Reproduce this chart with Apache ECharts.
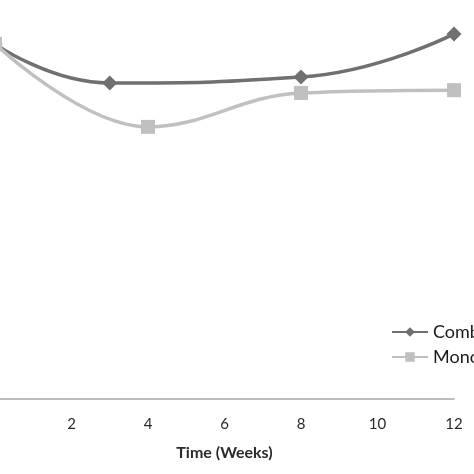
<!DOCTYPE html>
<html><head><meta charset="utf-8">
<script src="https://cdn.jsdelivr.net/npm/echarts@6/dist/echarts.min.js"></script>
<style>html,body{margin:0;padding:0;background:#fff}#c{width:474px;height:474px}</style>
</head><body><div id="c"></div>
<script>
const weeksCombination = [0, 3, 8, 12];
const valuesCombination = [89, 79.2, 80.7, 91.5];
const weeksMonotherapy = [0, 4, 8, 12];
const valuesMonotherapy = [89, 68.2, 76.7, 77.4];
const seriesNames = ['Combination therapy', 'Monotherapy'];
const xTicks = [0, 2, 4, 6, 8, 10, 12];

const chart = echarts.init(document.getElementById('c'));
chart.setOption({
  animation: false,
  backgroundColor: '#fff',
  grid: {left: -5, right: 20, top: 0, bottom: 75, containLabel: false, outerBoundsMode: 'none'},
  xAxis: {
    type: 'value', min: xTicks[0], max: xTicks[xTicks.length-1], interval: 2,
    showMinLabel: false,
    axisLine: {lineStyle: {color: '#a8a8a8', width: 1.5}},
    axisTick: {show: false},
    splitLine: {show: false},
    axisLabel: {color: '#2a2a2a', fontSize: 15, fontFamily: 'Lato', margin: 18},
    name: 'Time (Weeks)', nameLocation: 'middle', nameGap: 46,
    nameTextStyle: {color: '#2a2a2a', fontSize: 16, fontWeight: 'bold', fontFamily: 'Lato'}
  },
  yAxis: {type: 'value', min: 0, max: 100, show: false, splitLine: {show: false}},
  legend: {
    orient: 'vertical', left: 386, top: 318, itemWidth: 36, itemHeight: 12, itemGap: 7,
    textStyle: {color: '#1a1a1a', fontSize: 18, fontFamily: 'Lato'},
    data: seriesNames
  },
  series: [
    {
      name: seriesNames[0], type: 'line', smooth: 0.5,
      data: weeksCombination.map((w,i)=>[w, valuesCombination[i]]),
      symbol: 'diamond', symbolSize: 15,
      lineStyle: {color: '#707070', width: 3.5},
      itemStyle: {color: '#707070'}
    },
    {
      name: seriesNames[1], type: 'line', smooth: 0.4,
      data: weeksMonotherapy.map((w,i)=>[w, valuesMonotherapy[i]]),
      symbol: 'rect', symbolSize: 14,
      lineStyle: {color: '#c0c0c0', width: 3.5},
      itemStyle: {color: '#c0c0c0'}
    }
  ]
});
</script></body></html>
